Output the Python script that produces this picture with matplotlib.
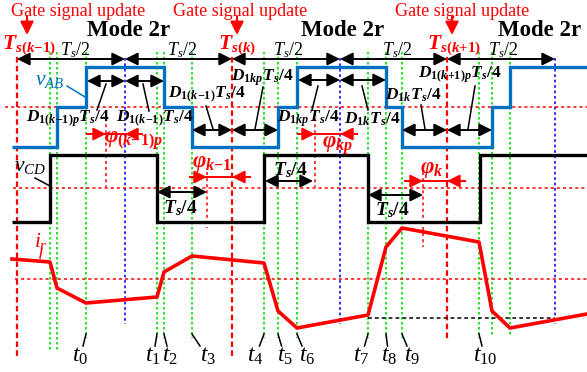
import matplotlib
matplotlib.use('Agg')
import matplotlib.pyplot as plt

plt.rcParams['font.family'] = ['Liberation Serif', 'DejaVu Serif']
plt.rcParams['mathtext.fontset'] = 'custom'
plt.rcParams['mathtext.rm'] = 'Liberation Serif'
plt.rcParams['mathtext.it'] = 'Liberation Serif:italic'
plt.rcParams['mathtext.bf'] = 'Liberation Serif:bold'
plt.rcParams['mathtext.bfit'] = 'Liberation Serif:italic:bold'

# time marks (pixel-like time axis, 0..587)
t_update = [17, 232, 447]          # gate signal update instants Ts(k-1), Ts(k), Ts(k+1)
t_half = [125, 340, 555]           # half-period marks
t_green = [50, 57, 86, 157, 164, 192, 264, 278, 297, 368, 386, 402, 479, 492, 510]
t_phase = [106, 207, 315, 423]     # phase-shift marks

# vAB : three-level waveform
vab_edges = [12, 57, 86, 164, 192, 278, 297, 386, 402, 492, 510, 587]
vab_level = [-1, 0, 1, 0, -1, 0, 1, 0, -1, 0, 1]
# vCD : two-level waveform
vcd_edges = [12, 50, 157, 264, 368, 480, 587]
vcd_level = [-1, 1, -1, 1, -1, 1]
# ir : piecewise-linear current
ir_t = [12, 50, 57, 86, 157, 164, 192, 264, 278, 297, 368, 386, 402, 479, 492, 510, 587]
ir_val = [20, 17, -9, -24, -18, 7, 23, 16, -32, -49, -36, 32, 51, 37, -32, -49, -35]

t_labels = ['0', '1', '2', '3', '4', '5', '6', '7', '8', '9', '10']
t_label_at = [86, 157, 164, 192, 264, 278, 297, 368, 386, 402, 479]
t_label_x = [80, 153, 170, 208, 255, 285, 307, 361, 389, 412, 485]

fig = plt.figure(figsize=(5.87, 3.72), dpi=100)
ax = fig.add_axes([0, 0, 1, 1])
ax.set_xlim(0, 587)
ax.set_ylim(372, 0)
ax.axis('off')

RED = '#FF0000'
BLUE = '#0070C0'
GREEN = '#00E000'
y_ab, y_cd, y_ir = 107, 188, 279

# grid of guide lines
for x in t_green:
    bot = 338 if x in t_label_at else 352
    if x in (492, 510):
        bot = 337
    ax.plot([x, x], [52, bot], color=GREEN, lw=1.2, ls=(0, (1.5, 1.5)), zorder=1)
for x, bot in zip(t_update, [357, 357, 340]):
    ax.plot([x, x], [57, bot], color=RED, lw=1.6, ls=(0, (2.5, 1.5)), zorder=1)
for x in t_half:
    ax.plot([x, x], [58, 324], color='#2020FF', lw=1.3, ls=(0, (1.5, 1.5)), zorder=1)
for x, (a, b) in zip(t_phase, [(112, 187), (172, 228), (112, 187), (172, 247)]):
    ax.plot([x, x], [a, b], color=RED, lw=1.1, ls=(0, (2, 2)), zorder=1)
for y, x0 in [(y_ab, 5), (y_cd, 13), (y_ir, 15)]:
    ax.plot([x0, 587], [y, y], color=RED, lw=1.1, ls=(0, (2, 2)), zorder=1)
ax.plot([368, 555], [318, 318], color='black', lw=1.1, ls=(0, (2.5, 2)), zorder=1)

# waveforms
ax.stairs([y_ab - 40 * v for v in vab_level], vab_edges, baseline=None,
          color=BLUE, lw=2.4, zorder=3)
ax.stairs([y_cd - 33.5 * v for v in vcd_level], vcd_edges, baseline=None,
          color='black', lw=2.4, zorder=3)
ax.plot(ir_t, [y_ir - v for v in ir_val], color=RED, lw=2.6, zorder=3)


def darrow(x0, x1, y, color='black', lw=1.4):
    ax.annotate('', xy=(x1, y), xytext=(x0, y),
                arrowprops=dict(arrowstyle='<|-|>', color=color, lw=lw,
                                shrinkA=0, shrinkB=0, mutation_scale=19), zorder=4)


def phase_arrow(x0, a, b, x1, y):
    ax.plot([x0, x1], [y, y], color=RED, lw=1.4, zorder=4)
    for s, e in [(x0, a), (x1, b)]:
        ax.annotate('', xy=(e, y), xytext=(s, y),
                    arrowprops=dict(arrowstyle='-|>', color=RED, lw=1.4,
                                    shrinkA=0, shrinkB=0, mutation_scale=19), zorder=4)


# Ts/2 arrows
bounds = [t_update[0], t_half[0], t_update[1], t_half[1], t_update[2], t_half[2]]
for a, b in zip(bounds[:-1], bounds[1:]):
    darrow(a, b, 59)
for x in [75, 182, 288, 397, 503]:
    ax.text(x, 50, r'$\mathit{T}_{\mathit{s}}\mathrm{/2}$', fontsize=13,
            ha='center', va='center')

# D arrows
for a, b, y in [(87, 125, 81), (125, 164, 81), (192, 232, 130), (232, 278, 130),
                (298, 340, 80), (340, 386, 80), (402, 447, 130), (447, 492, 130)]:
    darrow(a, b, y)

# Ts/4 arrows in vCD
for a, b, y in [(157, 207, 192), (265, 313, 181), (368, 423, 195)]:
    darrow(a, b, y)
for x, y in [(180, 208), (290, 170), (392, 210)]:
    ax.text(x, y, r'$\mathbfit{T}_{\mathbfit{s}}\mathbf{/4}$', fontsize=14,
            ha='center', va='center')

# phase arrows
phase_arrow(87, 106, 125, 142, 134)
phase_arrow(190, 207, 232, 250, 177)
phase_arrow(298, 315, 340, 357, 134)
phase_arrow(405, 423, 447, 465, 181)

ph = [(133, 141, r'$\mathbfit{φ}_{\mathbf{(}\mathbfit{k}\mathbf{-1)}\mathbfit{p}}$'),
      (212, 163, r'$\mathbfit{φ}_{\mathbfit{k}\mathbf{-1}}$'),
      (338, 146, r'$\mathbfit{φ}_{\mathbfit{kp}}$'),
      (432, 170, r'$\mathbfit{φ}_{\mathbfit{k}}$')]
for x, y, s in ph:
    ax.text(x, y, s, fontsize=16.5, color=RED, ha='center', va='center')

# D labels
d_km1p = r'$\mathbfit{D}_{\mathbf{1(}\mathbfit{k}\mathbf{-1)}\mathbfit{p}}\mathbfit{T}_{\mathbfit{s}}\mathbf{/4}$'
d_km1 = r'$\mathbfit{D}_{\mathbf{1(}\mathbfit{k}\mathbf{-1)}}\mathbfit{T}_{\mathbfit{s}}\mathbf{/4}$'
d_kp = r'$\mathbfit{D}_{\mathbf{1}\mathbfit{kp}}\mathbfit{T}_{\mathbfit{s}}\mathbf{/4}$'
d_k = r'$\mathbfit{D}_{\mathbf{1}\mathbfit{k}}\mathbfit{T}_{\mathbfit{s}}\mathbf{/4}$'
d_kp1p = r'$\mathbfit{D}_{\mathbf{1(}\mathbfit{k}\mathbf{+1)}\mathbfit{p}}\mathbfit{T}_{\mathbfit{s}}\mathbf{/4}$'
for x, y, s in [(68, 119, d_km1p), (155, 119, d_km1), (207, 95, d_km1), (262, 78, d_kp),
                (308, 119, d_kp), (372, 119, d_k), (413, 95, d_k), (460, 75, d_kp1p)]:
    ax.text(x, y, s, fontsize=12.5, ha='center', va='center')

# leader lines
leaders = [((106, 84), (97, 110)), ((143, 84), (149, 111)), ((206, 106), (213, 129)),
           ((263, 87), (255, 129)), ((318, 86), (312, 110)), ((362, 86), (368, 110)),
           ((421, 105), (425, 129)), ((475, 86), (468, 129))]
for (xa, ya), (xb, yb) in leaders:
    ax.plot([xa, xb], [ya, yb], color='black', lw=1.1, zorder=4)
ax.plot([67, 85], [86, 97], color=BLUE, lw=1.1)
ax.plot([35, 50], [178, 186], color='black', lw=1.1)
ax.plot([42, 40], [248, 258], color=RED, lw=1.1)

ax.text(50, 80, r'$\mathit{v}_{\mathit{AB}}$', fontsize=15.5, color=BLUE, ha='center', va='center')
ax.text(30, 166, r'$\mathit{v}_{\mathit{CD}}$', fontsize=15.5, color='black', ha='center', va='center')
ax.text(41, 241, r'$\mathit{i}_{\mathit{r}}$', fontsize=15.5, color=RED, ha='center', va='center')

# header texts
for x in [78, 240, 462]:
    ax.text(x, 12, 'Gate signal update', fontsize=13, color=RED, ha='center', va='center')
for x in [27, 237, 452]:
    ax.annotate('', xy=(x, 35), xytext=(x, 16),
                arrowprops=dict(arrowstyle='-|>', color=RED, lw=1.5,
                                shrinkA=0, shrinkB=0, mutation_scale=20))
for x in [129, 343, 540]:
    ax.text(x, 31, 'Mode 2r', fontsize=16.5, fontweight='bold', ha='center', va='center')
ts_lab = [r'$\mathbfit{T}_{\mathbfit{s}\mathbf{(}\mathbfit{k}\mathbf{-1)}}$',
          r'$\mathbfit{T}_{\mathbfit{s}\mathbf{(}\mathbfit{k}\mathbf{)}}$',
          r'$\mathbfit{T}_{\mathbfit{s}\mathbf{(}\mathbfit{k}\mathbf{+1)}}$']
for x, s in zip([2, 218, 427], ts_lab):
    ax.text(x, 45, s, fontsize=15.5, color=RED, ha='left', va='center')

# time labels
for lab, gx, lx in zip(t_labels, t_label_at, t_label_x):
    ax.plot([gx, gx + 0.5 * (lx - gx)], [334, 346], color='black', lw=1.1)
    ax.text(lx, 356, r'$\mathit{t}_{\mathrm{%s}}$' % lab, fontsize=17, ha='center', va='center')

fig.savefig('out.png', dpi=100)
